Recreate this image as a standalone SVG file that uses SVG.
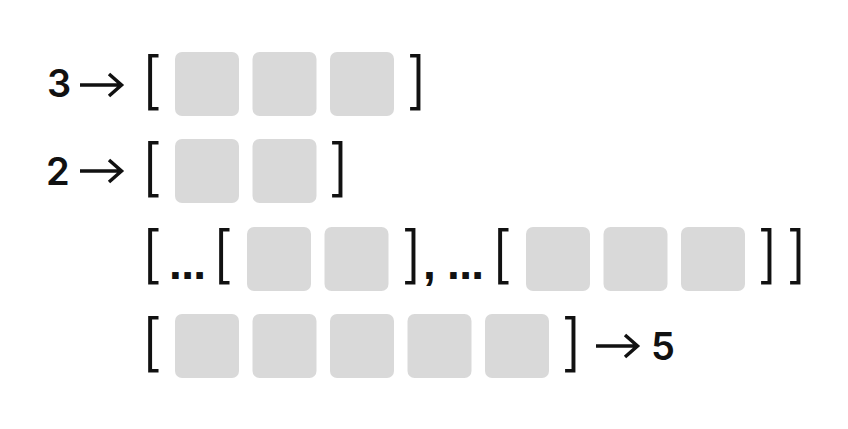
<svg xmlns="http://www.w3.org/2000/svg" width="848" height="429" viewBox="0 0 848 429">
<style>
.box{fill:#d9d9d9}
.br{font-family:Inter,"Liberation Sans",Arial,sans-serif;font-size:62px;font-weight:270;fill:#111}
.dg{font-family:Inter,"Liberation Sans",Arial,sans-serif;font-size:38px;font-weight:600;fill:#111}
.pu{font-family:"Liberation Sans",Arial,sans-serif;font-size:46px;font-weight:700;fill:#111;letter-spacing:-0.6px}
.ar{fill:none;stroke:#111;stroke-width:3.5;stroke-linejoin:miter}
</style>
<rect width="848" height="429" fill="#ffffff"/>
<g id="row1">
  <text class="dg" x="47" y="97">3</text>
  <text class="br" x="141" y="101.7">[</text>
  <rect class="box" x="175" y="52" width="64" height="64" rx="7"/>
  <rect class="box" x="252.5" y="52" width="64" height="64" rx="7"/>
  <rect class="box" x="330" y="52" width="64" height="64" rx="7"/>
  <text class="br" x="406" y="101.7">]</text>
</g>
<g id="row2">
  <text class="dg" x="46" y="185">2</text>
  <text class="br" x="141" y="188.7">[</text>
  <rect class="box" x="175" y="139" width="64" height="64" rx="7"/>
  <rect class="box" x="252.5" y="139" width="64" height="64" rx="7"/>
  <text class="br" x="328" y="188.7">]</text>
</g>
<g id="row3">
  <text class="br" x="141" y="275.7">[</text>
  <text class="pu" x="169" y="279">...</text>
  <text class="br" x="212" y="275.7">[</text>
  <rect class="box" x="247" y="227" width="64" height="64" rx="7"/>
  <rect class="box" x="324.5" y="227" width="64" height="64" rx="7"/>
  <text class="br" x="401" y="275.7">]</text>
  <text class="pu" x="423" y="279">,</text>
  <text class="pu" x="447" y="279">...</text>
  <text class="br" x="491" y="275.7">[</text>
  <rect class="box" x="526" y="227" width="64" height="64" rx="7"/>
  <rect class="box" x="603.5" y="227" width="64" height="64" rx="7"/>
  <rect class="box" x="681" y="227" width="64" height="64" rx="7"/>
  <text class="br" x="757" y="275.7">]</text>
  <text class="br" x="786" y="275.7">]</text>
</g>
<g id="row4">
  <text class="br" x="141" y="363.7">[</text>
  <rect class="box" x="175" y="314" width="64" height="64" rx="7"/>
  <rect class="box" x="252.5" y="314" width="64" height="64" rx="7"/>
  <rect class="box" x="330" y="314" width="64" height="64" rx="7"/>
  <rect class="box" x="407.5" y="314" width="64" height="64" rx="7"/>
  <rect class="box" x="485" y="314" width="64" height="64" rx="7"/>
  <text class="br" x="561" y="363.7">]</text>
  <text class="dg" x="651" y="360">5</text>
</g>
<g id="connectors">
  <path class="ar" d="M80 85H121M109 74L121.5 85L109 96"/>
  <path class="ar" d="M80 171H121M109 160L121.5 171L109 182"/>
  <path class="ar" d="M596 346H637M625 335L637.5 346L625 357"/>
</g>
</svg>
